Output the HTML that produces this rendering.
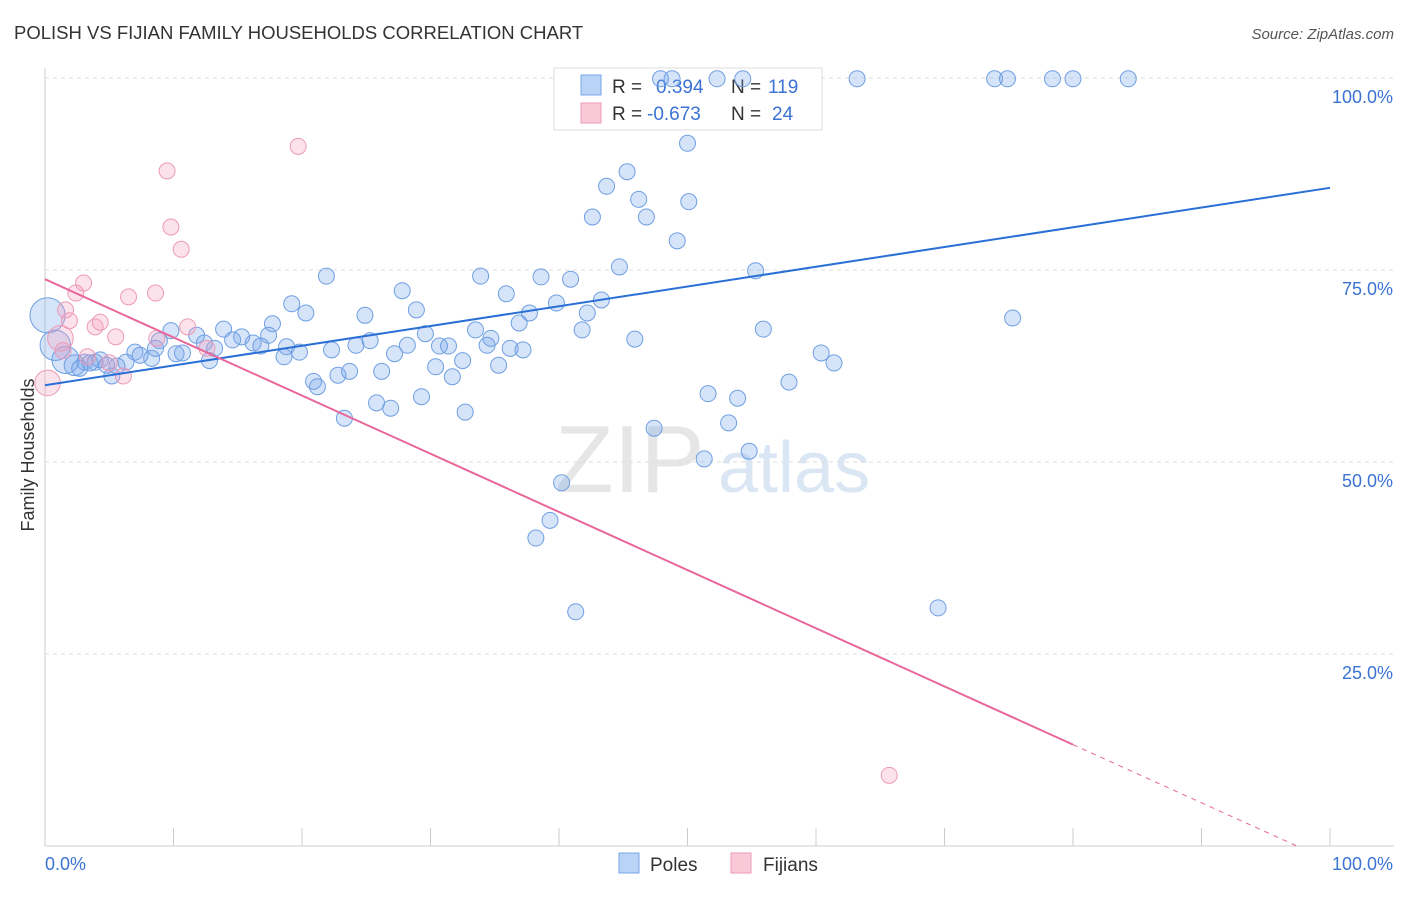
<!DOCTYPE html>
<html><head><meta charset="utf-8"><style>
body{margin:0;background:#fff;font-family:"Liberation Sans",sans-serif}
svg text{font-family:"Liberation Sans",sans-serif}
</style></head><body>
<svg id="c" width="1406" height="892" xmlns="http://www.w3.org/2000/svg">
<text x="14" y="39" font-size="18.5" fill="#333">POLISH VS FIJIAN FAMILY HOUSEHOLDS CORRELATION CHART</text>
<text x="1394" y="39" font-size="15" fill="#555" font-style="italic" text-anchor="end">Source: ZipAtlas.com</text>
<text transform="translate(34,455) rotate(-90)" font-size="18" fill="#333" text-anchor="middle">Family Households</text>
<g><text x="555" y="492" font-size="96" fill="#e6e6e6" font-family="Liberation Serif">ZIP</text><text x="718" y="492" font-size="72" fill="#dbe6f5">atlas</text></g>
<g id="grid"></g>
<g>
<rect x="554" y="68" width="268" height="62" fill="#fff" stroke="#ddd"/>
<rect x="581" y="75" width="20" height="20" fill="#b8d3f5" stroke="#7aa6e6"/>
<rect x="581" y="103" width="20" height="20" fill="#f9c9d8" stroke="#ea9ab6"/>
<text x="612" y="93" font-size="19" fill="#333">R =</text><text x="656" y="93" font-size="19" fill="#3a73d4">0.394</text>
<text x="731" y="93" font-size="19" fill="#333">N =</text><text x="768" y="93" font-size="19" fill="#3a73d4">119</text>
<text x="612" y="120" font-size="19" fill="#333">R =</text><text x="647" y="120" font-size="19" fill="#3a73d4">-0.673</text>
<text x="731" y="120" font-size="19" fill="#333">N =</text><text x="772" y="120" font-size="19" fill="#3a73d4">24</text>
</g>
<g id="marks"></g><g id="lines"></g>
<g>
<rect x="619" y="853" width="20" height="20" fill="#b8d3f5" stroke="#7aa6e6"/>
<text x="650" y="871" font-size="19" fill="#333">Poles</text>
<rect x="731" y="853" width="20" height="20" fill="#f9c9d8" stroke="#ea9ab6"/>
<text x="763" y="871" font-size="19" fill="#333">Fijians</text>
</g>
</svg>
<script>
const polesX=[47.9,48.8,52.3,54.3,63.2,73.9,74.9,78.4,80.0,84.3,50.0,45.3,43.7,46.2,42.6,46.8,50.1,49.2,44.7,55.3,21.9,33.9,38.6,40.9,27.8,35.9,19.2,43.3,39.8,20.3,28.9,24.9,42.2,37.7,75.3,17.7,36.9,13.9,9.8,41.8,55.9,17.4,11.8,33.5,29.6,34.7,45.9,15.3,14.6,8.9,25.3,24.2,16.2,12.4,16.8,28.2,30.7,31.4,34.4,36.2,37.2,18.8,22.3,19.8,13.2,27.2,10.7,7.0,10.2,60.4,18.6,8.3,6.3,12.8,32.5,35.3,30.4,61.4,26.2,23.7,22.8,20.9,31.7,57.9,5.2,5.6,21.2,29.3,51.6,53.9,25.8,26.9,32.7,23.3,53.2,47.4,54.8,51.3,40.2,39.3,38.2,41.3,69.5,0.2,0.8,1.6,2.3,3.1,3.9,4.3,2.7,3.5,4.8,7.4,8.6];
const polesY=[99.9,99.9,99.9,99.9,99.9,99.9,99.9,99.9,99.9,99.9,91.5,87.8,85.9,84.2,81.9,81.9,83.9,78.8,75.4,74.9,74.2,74.2,74.1,73.8,72.3,71.9,70.6,71.1,70.7,69.4,69.8,69.1,69.4,69.4,68.75,68.0,68.1,67.3,67.1,67.2,67.3,66.5,66.5,67.2,66.7,66.1,66.0,66.3,65.9,65.8,65.8,65.2,65.5,65.5,65.1,65.2,65.1,65.1,65.2,64.8,64.6,65.0,64.6,64.3,64.8,64.1,64.2,64.3,64.1,64.2,63.7,63.5,63.0,63.2,63.2,62.6,62.4,62.9,61.8,61.8,61.3,60.5,61.1,60.4,61.2,62.5,59.8,58.5,58.9,58.3,57.7,57.0,56.5,55.7,55.1,54.4,51.4,50.4,47.3,42.4,40.1,30.5,31.0,69.1,65.2,63.3,62.6,63.0,63.0,63.3,62.2,62.9,62.6,63.9,64.8];
const polesWeight=[];polesWeight[103]=2.2;polesWeight[104]=1.9;polesWeight[105]=1.7;polesWeight[106]=1.3;
const fijiX=[19.7,9.5,9.8,10.6,3.0,2.4,6.5,8.6,1.6,1.9,3.9,4.3,5.5,11.1,8.7,12.6,1.2,1.4,3.3,5.0,6.1,0.2,65.7];
const fijiY=[91.1,87.9,80.6,77.7,73.3,72.0,71.5,72.0,69.8,68.4,67.6,68.2,66.3,67.6,66.1,64.8,66.1,64.5,63.7,62.9,61.2,60.3,9.2];
const fijiWeight=[];fijiWeight[16]=1.6;fijiWeight[21]=1.6;
const polesTrend=[60.0,85.7];
const fijiTrend=[73.8,-1.95];
const yTicks=[25,50,75,100];
const xTickLabels=["0.0%","100.0%"];
const NS="http://www.w3.org/2000/svg";
const X=v=>45+v*12.85, Y=v=>846-v*7.68;
function mk(t,a,p){const e=document.createElementNS(NS,t);for(const k in a)e.setAttribute(k,a[k]);p.appendChild(e);return e;}
const grid=document.getElementById('grid'),marks=document.getElementById('marks'),lines=document.getElementById('lines');
yTicks.forEach(t=>{
 const l=mk('line',{x1:45,x2:1394,y1:Y(t),y2:Y(t),stroke:'#ddd','stroke-dasharray':'4,4'},grid);
 
 
 const tx=mk('text',{x:1393,y:Y(t)+25,'font-size':18,fill:'#3a73d4','text-anchor':'end'},grid);tx.textContent=t.toFixed(1)+'%';
 
 
});
const ax=mk('line',{x1:45,x2:45,y1:68,y2:846,stroke:'#ccc'},grid);


const bx=mk('line',{x1:45,x2:1394,y1:846,y2:846,stroke:'#ccc'},grid);


for(let i=0;i<=10;i++){const t=mk('line',{x1:X(i*10),x2:X(i*10),y1:828,y2:846,stroke:'#ccc'},grid);
 
 }
const xl0=mk('text',{x:45,y:870,'font-size':18,fill:'#3a73d4'},grid);xl0.textContent=xTickLabels[0];


const xl1=mk('text',{x:1393,y:870,'font-size':18,fill:'#3a73d4','text-anchor':'end'},grid);xl1.textContent=xTickLabels[1];


polesX.forEach((v,i)=>{const c=mk('circle',{cx:X(v),cy:Y(polesY[i]),r:8*(polesWeight[i]||1),fill:'rgba(120,165,235,0.3)',stroke:'#6f9fe2','stroke-width':1},marks);
 
 });
fijiX.forEach((v,i)=>{const c=mk('circle',{cx:X(v),cy:Y(fijiY[i]),r:8*(fijiWeight[i]||1),fill:'rgba(245,160,190,0.3)',stroke:'#eb9ab7','stroke-width':1},marks);
 
 });
const pl=mk('line',{x1:X(0),y1:Y(polesTrend[0]),x2:X(100),y2:Y(polesTrend[1]),stroke:'#2a6fd6','stroke-width':2},lines);


const fy=x=>fijiTrend[0]+(fijiTrend[1]-fijiTrend[0])*x/100;
const fl=mk('line',{x1:X(0),y1:Y(fy(0)),x2:X(80),y2:Y(fy(80)),stroke:'#e8679a','stroke-width':2},lines);


const x0=fijiTrend[0]/(fijiTrend[0]-fijiTrend[1])*100;
const fd=mk('line',{x1:X(80),y1:Y(fy(80)),x2:X(x0),y2:Y(0),stroke:'#e8679a','stroke-width':1,'stroke-dasharray':'5,5'},lines);


</script>
</body></html>
